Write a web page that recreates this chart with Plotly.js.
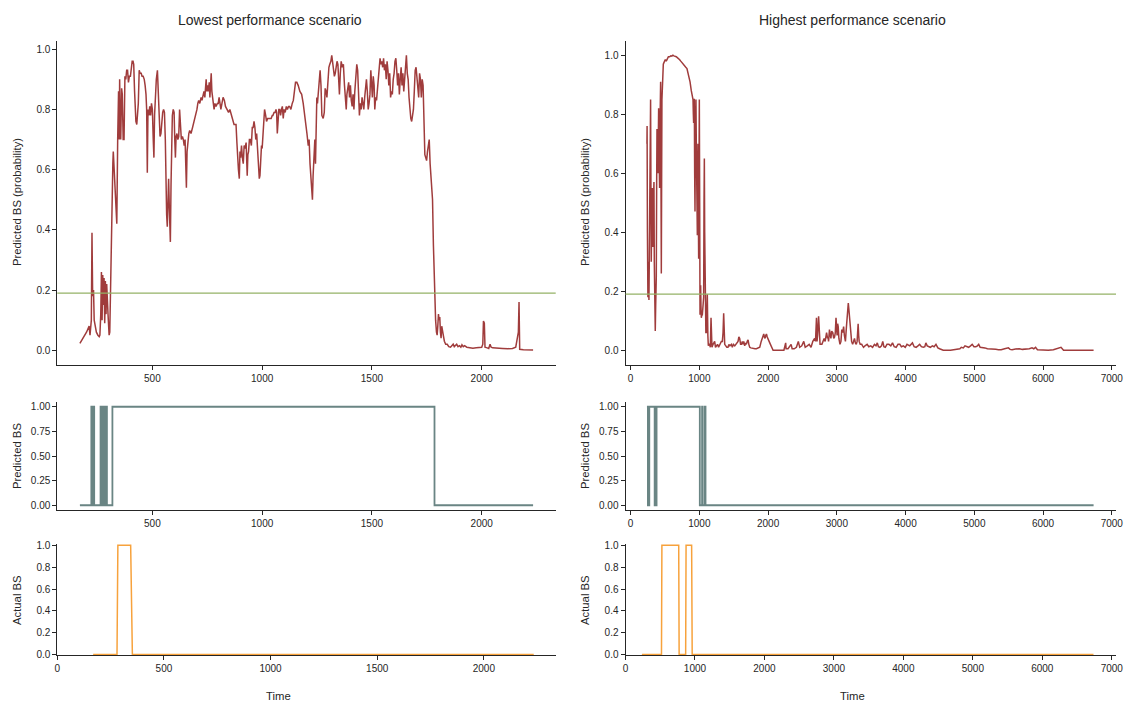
<!DOCTYPE html>
<html>
<head>
<meta charset="utf-8">
<script src="https://cdn.plot.ly/plotly-3.0.1.min.js"></script>
<style>html,body{margin:0;padding:0;background:#fff;}#chart{width:1127px;height:702px;}</style>
</head>
<body>
<div id="chart"></div>
<script>
// ---------------- DATA ----------------
const threshold = 0.19;

// Lowest performance scenario: predicted probability
const lowTime = [170,185,200,212,216,222,225,228,232,235,240,245,252,258,261,265,268,271,274,277,280,283,286,289,292,295,298,303,306,
312,317,320,322,326,330,334,338,342,346,349,351,354,356,360,363,367,371,375,379,383,387,391,395,400,
404,408,412,415,419,422,425,429,433,436,440,444,449,453,458,463,467,471,474,477,480,484,488,492,496,500,504,507,510,514,518,523,527,531,535,539,543,547,551,555,559,562,565,568,571,574,577,580,582,585,588,591,595,599,602,605,608,612,616,620,624,628,632,637,641,645,649,652,655,658,662,666,670,
676,683,690,697,703,707,711,716,722,726,730,735,739,742,745,748,751,755,759,762,765,768,771,775,778,781,785,790,796,800,804,808,812,817,822,828,833,840,847,853,860,866,872,877,881,885,889,892,896,899,902,906,910,914,918,922,927,930,932,935,938,942,946,951,955,959,963,967,971,975,978,981,984,987,990,994,997,1000,
1004,1007,1011,1016,1020,1025,1030,1036,1041,1046,1049,1054,1059,1063,1066,1069,1072,1076,1080,1084,1088,1092,1096,1100,1105,1110,1115,1120,1125,1131,1137,1142,1147,1152,1158,1164,1172,1180,1187,1193,1199,1204,1210,1214,1218,1222,1226,1229,1232,1236,1240,1243,1246,1249,1252,1256,1260,1264,1268,1272,1278,1283,1287,1291,1295,1300,
1304,1308,1313,1317,1321,1325,1329,1333,1337,1341,1345,1349,1352,1356,1360,1365,1370,1375,1379,1383,1386,1390,1394,1398,1402,1406,1410,1414,1418,1422,1427,1431,1435,1439,1443,1447,1451,1455,1459,1463,1467,1471,1475,1479,1483,1487,1491,1495,1498,
1502,1506,1510,1513,1517,1521,1525,1529,1533,1537,1541,1545,1549,1553,1557,1561,1565,1569,1573,1577,1581,1585,1589,1593,1597,1601,1605,1609,1613,1617,1621,1625,1629,1633,1637,1641,1645,1649,1653,1657,1661,1665,1669,1673,1677,1681,1685,1689,1693,1697,
1701,1705,1709,1713,1717,1721,1725,1729,1733,1737,1741,1745,1749,1753,1757,1761,1765,1770,1776,1780,1785,1790,1794,1797,1800,1803,1806,1809,1812,1815,1818,1821,1825,1830,1836,1843,1850,1858,1865,1870,1875,1880,1886,1892,1899,1905,1910,1916,1922,1932,1945,1960,1975,1990,
2000,2005,2008,2012,2015,2025,2032,2038,2043,2050,2070,2095,2120,2140,2155,2162,2167,2170,2173,2190,2210,2234];
const lowProb = [0.023,0.04,0.06,0.08,0.05,0.10,0.39,0.18,0.20,0.10,0.07,0.06,0.05,0.045,0.05,0.12,0.26,0.10,0.25,0.15,0.24,0.09,0.23,0.12,0.22,0.14,0.12,0.05,0.06,
0.30,0.58,0.62,0.66,0.60,0.50,0.48,0.42,0.70,0.86,0.70,0.90,0.72,0.70,0.87,0.85,0.70,0.70,0.91,0.90,0.93,0.93,0.89,0.91,0.91,
0.93,0.96,0.96,0.95,0.86,0.77,0.76,0.75,0.78,0.82,0.93,0.92,0.92,0.91,0.91,0.90,0.88,0.85,0.80,0.59,0.80,0.78,0.81,0.78,0.82,0.80,0.70,0.64,0.78,0.86,0.90,0.93,0.86,0.80,0.71,0.72,0.78,0.79,0.80,0.79,0.70,0.50,0.45,0.41,0.50,0.57,0.48,0.40,0.36,0.55,0.70,0.78,0.80,0.79,0.70,0.64,0.71,0.72,0.70,0.71,0.80,0.72,0.70,0.71,0.70,0.68,0.70,0.62,0.54,0.66,0.70,0.72,0.73,
0.72,0.74,0.76,0.78,0.80,0.82,0.83,0.82,0.84,0.83,0.85,0.86,0.84,0.87,0.90,0.86,0.88,0.86,0.89,0.84,0.91,0.92,0.86,0.84,0.82,0.80,0.82,0.81,0.82,0.82,0.84,0.82,0.80,0.82,0.84,0.83,0.81,0.80,0.79,0.80,0.78,0.76,0.75,0.75,0.75,0.69,0.62,0.60,0.57,0.66,0.64,0.68,0.64,0.62,0.68,0.67,0.69,0.62,0.58,0.65,0.66,0.70,0.70,0.68,0.74,0.74,0.76,0.74,0.70,0.72,0.68,0.62,0.60,0.57,0.58,0.62,0.68,0.67,
0.73,0.78,0.80,0.78,0.76,0.77,0.77,0.77,0.77,0.78,0.78,0.79,0.79,0.80,0.79,0.72,0.78,0.80,0.80,0.78,0.80,0.81,0.77,0.80,0.79,0.81,0.80,0.81,0.81,0.80,0.82,0.83,0.86,0.89,0.89,0.88,0.86,0.85,0.82,0.79,0.76,0.72,0.68,0.70,0.62,0.58,0.52,0.50,0.58,0.68,0.70,0.62,0.82,0.84,0.82,0.86,0.91,0.93,0.88,0.78,0.77,0.79,0.87,0.86,0.84,0.90,
0.94,0.95,0.96,0.98,0.95,0.93,0.91,0.92,0.94,0.96,0.95,0.88,0.85,0.92,0.96,0.94,0.95,0.88,0.84,0.80,0.85,0.88,0.89,0.84,0.88,0.83,0.81,0.85,0.80,0.86,0.93,0.95,0.93,0.80,0.78,0.82,0.80,0.84,0.82,0.80,0.84,0.87,0.90,0.86,0.80,0.82,0.85,0.93,0.88,
0.84,0.91,0.88,0.80,0.84,0.83,0.87,0.90,0.96,0.97,0.95,0.96,0.94,0.97,0.93,0.95,0.90,0.96,0.93,0.88,0.92,0.84,0.86,0.85,0.90,0.92,0.96,0.97,0.93,0.88,0.92,0.85,0.90,0.94,0.88,0.92,0.86,0.90,0.95,0.98,0.92,0.90,0.84,0.80,0.77,0.76,0.78,0.80,0.86,0.93,
0.94,0.90,0.87,0.84,0.92,0.90,0.84,0.90,0.88,0.70,0.65,0.64,0.63,0.66,0.68,0.70,0.62,0.55,0.50,0.35,0.19,0.10,0.06,0.05,0.08,0.12,0.10,0.11,0.06,0.04,0.08,0.06,0.05,0.03,0.02,0.02,0.012,0.01,0.015,0.02,0.012,0.015,0.02,0.012,0.015,0.01,0.018,0.012,0.015,0.01,0.008,0.007,0.008,0.008,
0.01,0.02,0.097,0.09,0.01,0.008,0.006,0.02,0.01,0.008,0.006,0.006,0.005,0.006,0.01,0.04,0.06,0.16,0.003,0.002,0.002,0.001];

// Highest performance scenario: predicted probability
const highTime = [238,240,245,252,260,267,272,277,284,291,296,301,308,316,320,325,332,340,345,350,355,359,365,370,374,379,384,390,398,403,408,413,418,422,427,432,437,442,447,452,456,461,466,471,476,485,495,505,519,535,550,568,585,600,616,630,645,665,680,695,714,730,745,762,780,800,820,835,849,865,883,897,908,913,917,922,927,932,937,942,946,951,956,961,966,971,976,980,985,990,995,1000,1005,1010,1015,1019,1024,1029,1036,1044,1053,1058,1063,1068,1073,1078,1083,1087,1095,1102,1109,1116,1124,1131,1140,1150,1160,1170,1175,1184,1200,1223,1235,1248,1265,1280,1296,1310,1320,1335,1345,1354,1360,1369,1385,1400,1417,1430,1445,1466,1480,1495,1515,1530,1545,1563,1575,1587,1600,1612,1625,1635,1646,1660,1672,1684,1697,1709,1720,1733,1750,1782,1810,1830,1855,1879,1900,1917,1927,1937,1946,1956,1966,1976,1988,2000,2015,2034,2055,2073,2121,2200,2230,2256,2262,2290,2320,2335,2350,2380,2412,2440,2460,2490,2519,2540,2570,2598,2625,2651,2677,2690,2704,2712,2720,2735,2745,2756,2783,2800,2815,2830,2851,2865,2872,2880,2893,2905,2914,2925,2941,2955,2967,2978,2988,2997,3004,3012,3020,3030,3046,3060,3072,3085,3099,3110,3125,3140,3151,3160,3167,3175,3183,3192,3204,3215,3230,3243,3257,3270,3283,3295,3310,3318,3325,3340,3362,3375,3389,3410,3441,3465,3494,3520,3547,3570,3589,3605,3626,3650,3668,3685,3705,3730,3758,3785,3810,3835,3863,3890,3916,3940,3968,3995,4021,4060,4100,4125,4153,4180,4205,4230,4258,4280,4295,4315,4337,4360,4390,4415,4442,4470,4495,4548,4653,4759,4790,4811,4840,4864,4890,4917,4945,4969,4995,5022,5045,5064,5085,5101,5130,5154,5190,5233,5270,5312,5350,5391,5440,5496,5520,5549,5600,5654,5700,5760,5800,5839,5865,5891,5918,6000,6076,6150,6208,6240,6261,6298,6400,6550,6735];
const highProb = [0.70,0.76,0.40,0.18,0.30,0.17,0.30,0.40,0.60,0.85,0.55,0.30,0.48,0.55,0.40,0.35,0.50,0.57,0.30,0.20,0.12,0.065,0.15,0.22,0.25,0.55,0.75,0.65,0.60,0.75,0.82,0.70,0.60,0.55,0.75,0.85,0.91,0.60,0.26,0.60,0.85,0.90,0.95,0.97,0.97,0.975,0.98,0.985,0.98,0.99,0.995,0.995,0.998,0.997,1.0,0.998,0.997,0.995,0.992,0.99,0.985,0.98,0.975,0.97,0.965,0.96,0.955,0.94,0.93,0.91,0.88,0.86,0.85,0.80,0.77,0.85,0.85,0.60,0.47,0.70,0.85,0.85,0.70,0.55,0.45,0.39,0.55,0.70,0.50,0.31,0.60,0.85,0.50,0.12,0.18,0.22,0.15,0.11,0.12,0.12,0.15,0.18,0.18,0.50,0.65,0.40,0.15,0.12,0.06,0.06,0.12,0.19,0.05,0.015,0.02,0.02,0.01,0.11,0.05,0.01,0.02,0.03,0.01,0.015,0.02,0.01,0.02,0.025,0.03,0.03,0.06,0.125,0.06,0.02,0.015,0.01,0.01,0.02,0.015,0.02,0.01,0.02,0.015,0.02,0.025,0.03,0.045,0.04,0.02,0.02,0.03,0.02,0.03,0.015,0.025,0.02,0.03,0.035,0.02,0.01,0.008,0.005,0.005,0.005,0.008,0.01,0.03,0.04,0.05,0.055,0.045,0.04,0.05,0.055,0.045,0.04,0.03,0.02,0.008,0.0,0.0,0.0,0.0,0.025,0.005,0.005,0.015,0.02,0.005,0.005,0.01,0.03,0.01,0.015,0.03,0.01,0.015,0.02,0.01,0.03,0.04,0.03,0.11,0.03,0.05,0.115,0.03,0.02,0.02,0.035,0.04,0.03,0.06,0.04,0.045,0.03,0.07,0.05,0.04,0.065,0.06,0.04,0.045,0.06,0.11,0.08,0.05,0.09,0.08,0.04,0.02,0.03,0.07,0.06,0.08,0.05,0.03,0.08,0.13,0.14,0.16,0.14,0.12,0.08,0.05,0.03,0.02,0.035,0.04,0.025,0.02,0.03,0.09,0.05,0.03,0.02,0.02,0.015,0.01,0.015,0.02,0.012,0.015,0.01,0.02,0.015,0.025,0.012,0.01,0.015,0.03,0.012,0.01,0.02,0.02,0.015,0.025,0.012,0.01,0.02,0.02,0.012,0.015,0.01,0.02,0.015,0.025,0.012,0.01,0.015,0.02,0.012,0.01,0.012,0.025,0.015,0.012,0.01,0.015,0.012,0.02,0.008,0.005,0.0,0.0,0.002,0.005,0.01,0.008,0.015,0.012,0.01,0.015,0.02,0.012,0.012,0.015,0.02,0.01,0.01,0.008,0.008,0.005,0.005,0.004,0.003,0.002,0.002,0.005,0.008,0.003,0.002,0.004,0.005,0.003,0.003,0.005,0.008,0.005,0.01,0.002,0.001,0.0,0.002,0.005,0.008,0.01,0.0,0.0,0.0,0.0];

// Predicted BS (0/1), change points (step after)
const predLowTime  = [170,222,226,229,235,264,268,271,275,278,283,286,293,318,1785,2234];
const predLowValue = [0,1,0,1,0,1,0,1,0,1,0,1,0,1,0,0];
const predHighTime  = [238,252,272,350,356,360,378,1007,1040,1047,1078,1090,6735];
const predHighValue = [1,0,1,0,1,0,1,0,1,0,1,0,0];

// Actual BS (0/1)
const actLowTime  = [168,280,284,344,352,2234];
const actLowValue = [0,0,1,1,0,0];
const actHighTime  = [236,518,524,766,772,866,872,952,960,6737];
const actHighValue = [0,0,1,1,0,0,1,1,0,0];

const colTitles = ["Lowest performance scenario", "Highest performance scenario"];
const yTitles = ["Predicted BS (probability)", "Predicted BS", "Actual BS"];
const xTitle = "Time";

// ---------------- STYLE / LAYOUT ----------------
const W = 1127, H = 702;
const RED = '#a03c3c', GREEN = '#94b266', GRAY = '#6a8584', ORANGE = '#f7a23c';
const FONT = 'Liberation Sans, Arial, sans-serif';
const INK = '#262626';

const px = x => x / W;
const py = y => 1 - y / H;

const leftDom = [px(57.3), px(555.7)];
const rightDom = [px(625.5), px(1116)];
const topDom = [py(365), py(40.5)];
const midDom = [py(510.2), py(401.8)];
const botDom = [py(655), py(544)];

function ax(extra) {
  return Object.assign({
    showline: true, linecolor: INK, linewidth: 1,
    ticks: 'outside', ticklen: 4, tickwidth: 1, tickcolor: INK,
    showgrid: false, zeroline: false, mirror: false,
    tickfont: {family: FONT, size: 10, color: INK},
    fixedrange: true
  }, extra);
}

const traces = [
  {x: lowTime, y: lowProb, xaxis: 'x', yaxis: 'y', mode: 'lines', line: {color: RED, width: 1.5}},
  {x: highTime, y: highProb, xaxis: 'x2', yaxis: 'y2', mode: 'lines', line: {color: RED, width: 1.5}},
  {x: predLowTime, y: predLowValue, xaxis: 'x3', yaxis: 'y3', mode: 'lines', line: {color: GRAY, width: 1.8, shape: 'hv'}},
  {x: predHighTime, y: predHighValue, xaxis: 'x4', yaxis: 'y4', mode: 'lines', line: {color: GRAY, width: 1.8, shape: 'hv'}},
  {x: actLowTime, y: actLowValue, xaxis: 'x5', yaxis: 'y5', mode: 'lines', line: {color: ORANGE, width: 1.5}},
  {x: actHighTime, y: actHighValue, xaxis: 'x6', yaxis: 'y6', mode: 'lines', line: {color: ORANGE, width: 1.5}}
];

const lowRange = [67, 2337], highRange = [-74, 7061];
const layout = {
  width: W, height: H, showlegend: false,
  margin: {l: 0, r: 0, t: 0, b: 0},
  paper_bgcolor: '#fff', plot_bgcolor: '#fff',
  font: {family: FONT, color: INK},
  xaxis:  ax({domain: leftDom, anchor: 'y', range: lowRange, tickvals: [500,1000,1500,2000]}),
  yaxis:  ax({domain: topDom, anchor: 'x', range: [-0.049, 1.029], tickvals: [0,0.2,0.4,0.6,0.8,1.0], tickformat: '.1f'}),
  xaxis2: ax({domain: rightDom, anchor: 'y2', range: highRange, tickvals: [0,1000,2000,3000,4000,5000,6000,7000]}),
  yaxis2: ax({domain: topDom, anchor: 'x2', range: [-0.05, 1.05], tickvals: [0,0.2,0.4,0.6,0.8,1.0], tickformat: '.1f'}),
  xaxis3: ax({domain: leftDom, anchor: 'y3', range: lowRange, tickvals: [500,1000,1500,2000]}),
  yaxis3: ax({domain: midDom, anchor: 'x3', range: [-0.05, 1.05], tickvals: [0,0.25,0.5,0.75,1.0], tickformat: '.2f'}),
  xaxis4: ax({domain: rightDom, anchor: 'y4', range: highRange, tickvals: [0,1000,2000,3000,4000,5000,6000,7000]}),
  yaxis4: ax({domain: midDom, anchor: 'x4', range: [-0.05, 1.05], tickvals: [0,0.25,0.5,0.75,1.0], tickformat: '.2f'}),
  xaxis5: ax({domain: leftDom, anchor: 'y5', range: [0, 2337], tickvals: [0,500,1000,1500,2000], layer: 'below traces'}),
  yaxis5: ax({domain: botDom, anchor: 'x5', range: [-0.004, 1.012], tickvals: [0,0.2,0.4,0.6,0.8,1.0], tickformat: '.1f'}),
  xaxis6: ax({domain: rightDom, anchor: 'y6', range: [0, 7061], tickvals: [0,1000,2000,3000,4000,5000,6000,7000], layer: 'below traces'}),
  yaxis6: ax({domain: botDom, anchor: 'x6', range: [-0.004, 1.012], tickvals: [0,0.2,0.4,0.6,0.8,1.0], tickformat: '.1f'}),
  shapes: [
    {type: 'line', xref: 'x domain', yref: 'y', x0: 0, x1: 1, y0: threshold, y1: threshold, line: {color: GREEN, width: 1.3}},
    {type: 'line', xref: 'x2 domain', yref: 'y2', x0: 0, x1: 1, y0: threshold, y1: threshold, line: {color: GREEN, width: 1.3}}
  ],
  annotations: []
};

const titleFont = {family: FONT, size: 14, color: INK};
const labFont = {family: FONT, size: 11.3, color: INK};
layout.annotations.push({text: colTitles[0], xref: 'paper', yref: 'paper', x: px(270), y: py(20), showarrow: false, xanchor: 'center', yanchor: 'middle', font: titleFont});
layout.annotations.push({text: colTitles[1], xref: 'paper', yref: 'paper', x: px(852), y: py(20), showarrow: false, xanchor: 'center', yanchor: 'middle', font: titleFont});
const yCenters = [202, 456, 600];
[17, 585].forEach(xc => {
  yTitles.forEach((t, i) => {
    layout.annotations.push({text: t, xref: 'paper', yref: 'paper', x: px(xc), y: py(yCenters[i]), showarrow: false, textangle: -90, xanchor: 'center', yanchor: 'middle', font: labFont});
  });
});
layout.annotations.push({text: xTitle, xref: 'paper', yref: 'paper', x: px(278), y: py(696), showarrow: false, xanchor: 'center', yanchor: 'middle', font: labFont});
layout.annotations.push({text: xTitle, xref: 'paper', yref: 'paper', x: px(852), y: py(696), showarrow: false, xanchor: 'center', yanchor: 'middle', font: labFont});

Plotly.newPlot('chart', traces, layout, {staticPlot: true, displayModeBar: false});
</script>
</body>
</html>
